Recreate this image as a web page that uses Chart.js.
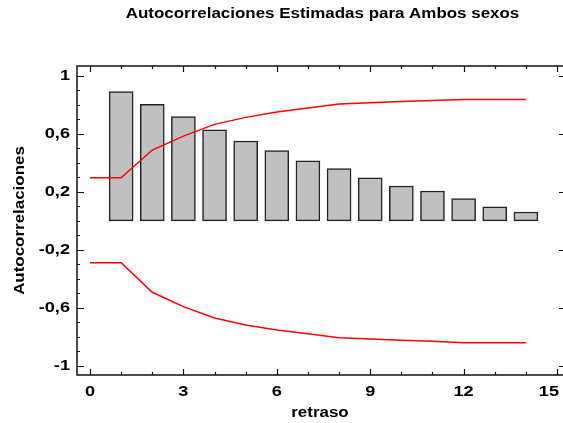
<!DOCTYPE html>
<html><head><meta charset="utf-8">
<script src="https://cdn.jsdelivr.net/npm/chart.js@4/dist/chart.umd.min.js"></script>
<style>html,body{margin:0;padding:0;background:#fff;overflow:hidden;}#wrap{width:563px;height:423px;overflow:hidden;}canvas{display:block;}</style>
</head><body><div id="wrap"><canvas id="c" width="570" height="423"></canvas></div>
<script>
const chartTitle = "Autocorrelaciones Estimadas para Ambos sexos";
const xTitle = "retraso";
const yTitle = "Autocorrelaciones";
const lags = [1,2,3,4,5,6,7,8,9,10,11,12,13,14];
const acf = [0.890,0.803,0.718,0.628,0.550,0.485,0.414,0.360,0.297,0.240,0.206,0.153,0.097,0.061];
const limitLags = [0,1,2,3,4,5,6,7,8,9,10,11,12,13,14];
const upperLimit = [0.297,0.297,0.488,0.584,0.665,0.713,0.750,0.778,0.805,0.814,0.822,0.830,0.837,0.837,0.837];
const lowerLimit = [-0.288,-0.288,-0.492,-0.591,-0.669,-0.717,-0.752,-0.777,-0.805,-0.814,-0.822,-0.830,-0.839,-0.839,-0.839];
const xTickValues = [0,3,6,9,12,15];
const xTickLabels = ["0","3","6","9","12","15"];
const yTickValues = [-1,-0.6,-0.2,0.2,0.6,1];
const yTickLabels = ["-1","-0,6","-0,2","0,2","0,6","1"];
const xMinorStep = 1;
const yMinorStep = 0.1;

const FONT = "bold 14px 'Liberation Sans', Arial, sans-serif";
const TICK_FONT = "bold 15px 'Liberation Sans', Arial, sans-serif";
const STRETCH = 1.21;
const VISIBLE_W = 563;

function stretchedText(ctx, text, x, y, align, baseline, rot) {
  ctx.save();
  ctx.translate(x, y);
  if (rot) ctx.rotate(rot);
  ctx.scale(STRETCH, 1);
  ctx.textAlign = align;
  ctx.textBaseline = baseline;
  ctx.fillText(text, 0, 0);
  ctx.restore();
}

const framePlugin = {
  id: 'frame',
  afterDraw(chart) {
    const {ctx, chartArea: a, scales: {x, y}} = chart;
    ctx.save();
    ctx.strokeStyle = '#111';
    ctx.lineWidth = 1.5;
    ctx.strokeRect(a.left, a.top, a.right - a.left, a.bottom - a.top);
    ctx.lineWidth = 1.2;
    ctx.beginPath();
    for (let v = 0; v <= 15 + 1e-9; v += xMinorStep) {
      const px = Math.round(x.getPixelForValue(v)) + 0.5;
      const major = xTickValues.some(t => Math.abs(t - v) < 1e-9);
      const len = major ? 6 : 3;
      ctx.moveTo(px, a.bottom); ctx.lineTo(px, a.bottom - len);
      ctx.moveTo(px, a.top); ctx.lineTo(px, a.top + len);
    }
    for (let i = -10; i <= 10; i++) {
      const v = i * yMinorStep;
      const py = Math.round(y.getPixelForValue(v)) + 0.5;
      const major = yTickValues.some(t => Math.abs(t - v) < 1e-9);
      const len = major ? 7 : 3;
      ctx.moveTo(a.left, py); ctx.lineTo(a.left + len, py);
      ctx.moveTo(a.right, py); ctx.lineTo(a.right - len, py);
    }
    ctx.stroke();

    ctx.fillStyle = '#000';
    ctx.font = TICK_FONT;
    x.ticks.forEach(t => {
      const label = xTickLabels[xTickValues.indexOf(t.value)];
      let px = x.getPixelForValue(t.value);
      const half = ctx.measureText(label).width * STRETCH / 2;
      if (px + half > VISIBLE_W - 4) px = VISIBLE_W - 4 - half;
      stretchedText(ctx, label, px, 392, 'center', 'middle');
    });
    y.ticks.forEach(t => {
      stretchedText(ctx, yTickLabels[yTickValues.indexOf(t.value)], 70, y.getPixelForValue(t.value), 'right', 'middle');
    });
    ctx.font = FONT;
    stretchedText(ctx, chartTitle, 322.5, 18, 'center', 'alphabetic');
    stretchedText(ctx, xTitle, 320, 413, 'center', 'middle');
    stretchedText(ctx, yTitle, 20, (a.top + a.bottom) / 2, 'center', 'middle', -Math.PI / 2);
    ctx.restore();
  }
};

new Chart(document.getElementById('c'), {
  type: 'bar',
  data: {
    datasets: [
      {
        type: 'line',
        data: limitLags.map((v, i) => ({x: v, y: upperLimit[i]})),
        borderColor: '#ff0000', borderWidth: 1.5, pointRadius: 0, fill: false, tension: 0, order: 1
      },
      {
        type: 'line',
        data: limitLags.map((v, i) => ({x: v, y: lowerLimit[i]})),
        borderColor: '#ff0000', borderWidth: 1.5, pointRadius: 0, fill: false, tension: 0, order: 1
      },
      {
        type: 'bar',
        data: lags.map((v, i) => ({x: v, y: acf[i]})),
        backgroundColor: '#c0c0c0', borderColor: '#222', borderWidth: 1.5,
        borderSkipped: false, barThickness: 24, order: 2
      }
    ]
  },
  options: {
    responsive: false, animation: false, devicePixelRatio: 1,
    layout: {padding: {left: 0, right: 4, top: 66, bottom: 0}},
    plugins: {legend: {display: false}, title: {display: false}, tooltip: {enabled: false}},
    scales: {
      x: {
        type: 'linear', min: -0.4176, max: 15.289, offset: false,
        grid: {display: false, drawTicks: false}, border: {display: false},
        afterBuildTicks: s => { s.ticks = xTickValues.map(v => ({value: v})); },
        afterFit: s => { s.height = 48; },
        ticks: {display: false, autoSkip: false}
      },
      y: {
        type: 'linear', min: -1.062, max: 1.067,
        grid: {display: false, drawTicks: false}, border: {display: false},
        afterBuildTicks: s => { s.ticks = yTickValues.map(v => ({value: v})); },
        afterFit: s => { s.width = 77; },
        ticks: {display: false, autoSkip: false}
      }
    }
  },
  plugins: [framePlugin]
});
</script></body></html>
